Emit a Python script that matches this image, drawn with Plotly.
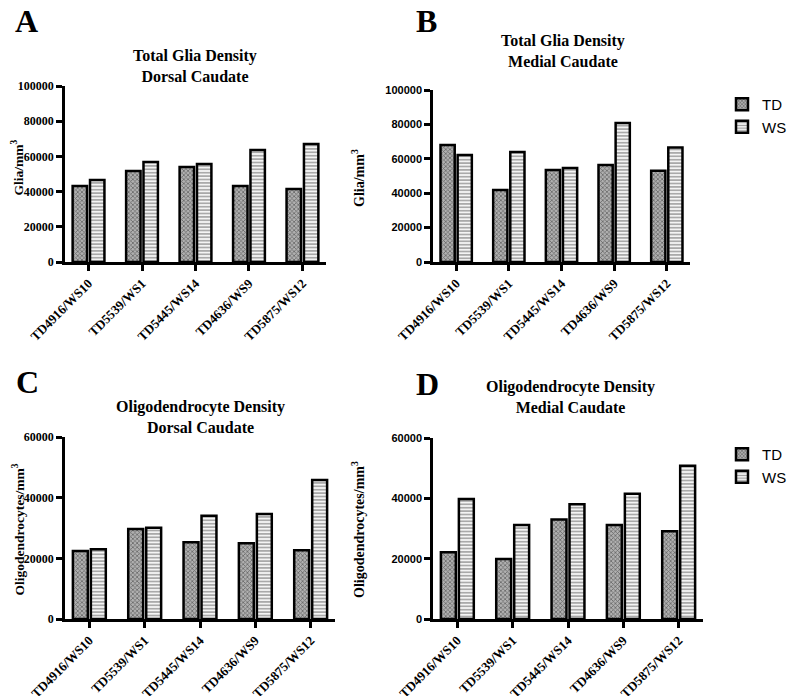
import plotly.graph_objects as go

categories = ["TD4916/WS10", "TD5539/WS1", "TD5445/WS14", "TD4636/WS9", "TD5875/WS12"]

glia_dorsal_td = [43200, 51700, 54000, 43200, 41500]
glia_dorsal_ws = [46600, 56800, 55700, 63600, 67000]
glia_medial_td = [68000, 41900, 53500, 56400, 53000]
glia_medial_ws = [62200, 64000, 54600, 80800, 66500]
oligo_dorsal_td = [22400, 29700, 25300, 25000, 22700]
oligo_dorsal_ws = [23000, 30100, 34000, 34600, 45800]
oligo_medial_td = [22100, 19900, 33000, 31200, 29100]
oligo_medial_ws = [39800, 31200, 38000, 41500, 50800]

W, H = 800, 696
OFF = 8  # page body margin offset compensation
SERIF = "Liberation Serif, Times New Roman, serif"
SANS = "Liberation Sans, Arial, sans-serif"

def fx(a):
    return (a - OFF) / W

def fy(a):
    return 1 - (a - OFF) / H

def px_x(a, b):
    return [fx(a), fx(b)]

def px_y(top, bottom):
    return [fy(bottom), fy(top)]

TD_MARKER = dict(color="#9a9a9a", line=dict(color="black", width=2.5),
                 pattern=dict(shape="x", size=3, solidity=0.45, fgcolor="#1e1e1e", bgcolor="#b0b0b0"))
WS_MARKER = dict(color="#eeeeee", line=dict(color="black", width=2.5),
                 pattern=dict(shape="-", size=3.4, solidity=0.4, fgcolor="#3a3a3a", bgcolor="#f4f4f4"))

panels = [
    (glia_dorsal_td, glia_dorsal_ws, px_x(65, 326), px_y(86, 262), 100000, 20000, SERIF, 12, None),
    (glia_medial_td, glia_medial_ws, px_x(433, 690), px_y(90, 262), 100000, 20000, SANS, 11, "legend"),
    (oligo_dorsal_td, oligo_dorsal_ws, px_x(65, 335), px_y(437, 619), 60000, 20000, SERIF, 12, None),
    (oligo_medial_td, oligo_medial_ws, px_x(433, 703), px_y(438, 619), 60000, 20000, SANS, 11, "legend2"),
]

fig = go.Figure()
layout = {}
for i, (td, ws, xd, yd, ymax, dt, tfam, tsize, leg) in enumerate(panels):
    n = i + 1
    xa = "x" if n == 1 else f"x{n}"
    ya = "y" if n == 1 else f"y{n}"
    show = leg is not None
    fig.add_trace(go.Bar(x=categories, y=td, name="TD", marker=TD_MARKER,
                         xaxis=xa, yaxis=ya, showlegend=show,
                         legend=leg if leg else "legend"))
    fig.add_trace(go.Bar(x=categories, y=ws, name="WS", marker=WS_MARKER,
                         xaxis=xa, yaxis=ya, showlegend=show,
                         legend=leg if leg else "legend"))
    xk = "xaxis" if n == 1 else f"xaxis{n}"
    yk = "yaxis" if n == 1 else f"yaxis{n}"
    layout[xk] = dict(domain=xd, anchor=ya, type="category", range=[-0.44, 4.44],
                      automargin=False,
                      showline=True, linecolor="black", linewidth=2.5,
                      ticks="outside", ticklen=6, tickwidth=2.5, tickcolor="black",
                      tickangle=-45, showgrid=False, zeroline=False,
                      tickfont=dict(family=SERIF, size=13, color="black", weight="bold"))
    layout[yk] = dict(domain=yd, anchor=xa, range=[0, ymax], dtick=dt, tick0=0,
                      automargin=False,
                      tickformat="d", showline=True, linecolor="black", linewidth=2.5,
                      ticks="outside", ticklen=6, tickwidth=2.5, tickcolor="black",
                      showgrid=False, zeroline=False,
                      tickfont=dict(family=tfam, size=tsize, color="black", weight="bold"))

annotations = []
def ann(text, x, y, size, family=SERIF, angle=0, bold=True, xanchor="center", yanchor="middle"):
    annotations.append(dict(text=text, x=fx(x), y=fy(y), xref="paper", yref="paper",
                            showarrow=False, textangle=angle, xanchor=xanchor, yanchor=yanchor,
                            font=dict(family=family, size=size, color="black",
                                      weight="bold" if bold else "normal")))

ann("A", 13, 1, 32, xanchor="left", yanchor="top")
ann("B", 414, 1, 32, xanchor="left", yanchor="top")
ann("C", 14, 362, 32, xanchor="left", yanchor="top")
ann("D", 414, 364, 32, xanchor="left", yanchor="top")
ann("Total Glia Density<br>Dorsal Caudate", 195, 66, 16)
ann("Total Glia Density<br>Medial Caudate", 563, 51, 16)
ann("Oligodendrocyte Density<br>Dorsal Caudate", 200, 417, 16)
ann("Oligodendrocyte Density<br>Medial Caudate", 570, 397, 16)
ann("Glia/mm<sup>3</sup>", 8, 168, 13.5, angle=-90, xanchor="left")
ann("Glia/mm<sup>3</sup>", 358, 178, 14, angle=-90)
ann("Oligodendrocytes/mm<sup>3</sup>", 8, 530, 13.5, angle=-90, xanchor="left")
ann("Oligodendrocytes/mm<sup>3</sup>", 358, 530, 14, angle=-90)

legend_style = dict(font=dict(family=SANS, size=15, color="black"), bgcolor="rgba(0,0,0,0)",
                    xanchor="left", yanchor="top", itemclick=False)
fig.update_layout(
    width=W, height=H, margin=dict(l=0, r=0, t=0, b=0, autoexpand=False),
    paper_bgcolor="white", plot_bgcolor="white",
    barmode="group", bargap=0.35, bargroupgap=0.17,
    annotations=annotations,
    legend=dict(x=fx(722), y=fy(88), **legend_style),
    legend2=dict(x=fx(722), y=fy(438), **legend_style),
    **layout,
)

fig.write_html("out.html")
